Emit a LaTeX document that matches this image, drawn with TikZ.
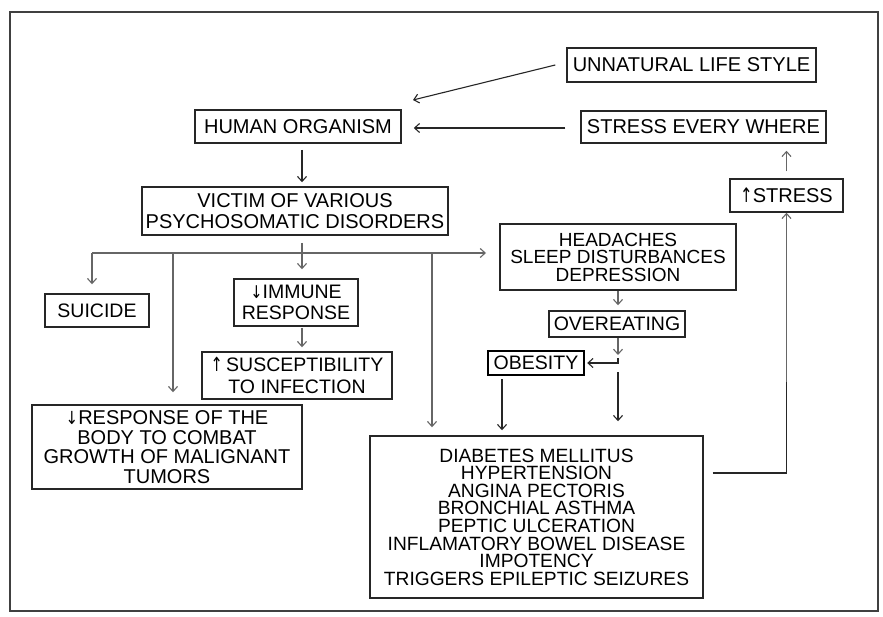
\documentclass[tikz,border=0pt]{standalone}
\usepackage{fontspec}
\setmainfont{Liberation Sans}
\newfontfamily\arrowfont{DejaVu Sans}
\newcommand{\uparr}{\scalebox{0.75}[1]{\arrowfont ↑}}
\newcommand{\dnarr}{\scalebox{0.75}[0.9]{\arrowfont ↓}}
\usetikzlibrary{arrows.meta}
\begin{document}
\begin{tikzpicture}[x=1pt,y=-1pt,
  box/.style={draw=black!85, line width=1.5pt, inner sep=0pt, align=center,
    font=\fontsize{19.5}{18}\selectfont, text=black},
  arr/.style={draw=black!85, line width=1.1pt, -{Straight Barb[length=5pt,width=9pt]}},
  arrg/.style={arr, draw=black!60},
  ln/.style={draw=black!85, line width=1.3pt}]
\useasboundingbox (0,0) rectangle (883,616);
\fill[white] (0,0) rectangle (883,616);
\draw[black!75, line width=1.8pt] (10,12) rectangle (878,611);

% nodes
\node[box, font=\fontsize{20}{20}\selectfont, minimum width=249pt, minimum height=34pt] (UNL) at (691.5,65) {UNNATURAL LIFE STYLE};
\node[box, font=\fontsize{20}{20}\selectfont, minimum width=206pt, minimum height=33pt] (HUM) at (298,126.5) {HUMAN ORGANISM};
\node[box, font=\fontsize{20}{20}\selectfont, minimum width=245pt, minimum height=32pt] (SEW) at (703.5,127) {STRESS EVERY WHERE};
\node[box, font=\fontsize{20}{21}\selectfont, minimum width=306pt, minimum height=48pt] (VIC) at (295,211) {VICTIM OF VARIOUS\\PSYCHOSOMATIC DISORDERS};
\node[box, font=\fontsize{20}{20}\selectfont, minimum width=113pt, minimum height=33pt] (UST) at (786.5,195.5) {\uparr STRESS};
\node[box, font=\fontsize{19}{17.5}\selectfont, minimum width=236pt, minimum height=66pt] (HDA) at (618,257) {HEADACHES\\SLEEP DISTURBANCES\\DEPRESSION};
\node[box, minimum width=136pt, minimum height=26pt] (OVE) at (617,324) {OVEREATING};
\node[box, line width=2.4pt, draw=black, minimum width=96pt, minimum height=24pt] (OBE) at (536,363) {OBESITY};
\node[box, minimum width=104pt, minimum height=33pt] (SUI) at (97,310.5) {SUICIDE};
\node[box, font=\fontsize{19.5}{21.7}\selectfont, minimum width=124pt, minimum height=47pt] (IMM) at (296,302.5) {\dnarr IMMUNE\\RESPONSE};
\node[box, font=\fontsize{19.5}{22}\selectfont, minimum width=190pt, minimum height=47pt] (SUS) at (297,375.5) {\uparr\,SUSCEPTIBILITY\\TO INFECTION};
\node[box, font=\fontsize{20}{19.5}\selectfont, minimum width=270pt, minimum height=84pt] (RES) at (167,447) {\dnarr RESPONSE OF THE\\BODY TO COMBAT\\GROWTH OF MALIGNANT\\TUMORS};
\node[box, font=\fontsize{19.2}{17.6}\selectfont, minimum width=333pt, minimum height=162pt] (DIA) at (536.5,517) {DIABETES MELLITUS\\HYPERTENSION\\ANGINA PECTORIS\\BRONCHIAL ASTHMA\\PEPTIC ULCERATION\\INFLAMATORY BOWEL DISEASE\\IMPOTENCY\\TRIGGERS EPILEPTIC SEIZURES};

% top connectors
\coordinate (uh) at (413,100);
\draw[arr] ([xshift=-11pt]UNL.west) -- (uh);
\draw[arr] ([xshift=-15pt,yshift=-1pt]SEW.west) -- ([xshift=12pt,yshift=-1.5pt]HUM.east);
\draw[arr] ([xshift=4pt,yshift=-6pt]HUM.south) -- ([xshift=7pt,yshift=4pt]VIC.north);

% branch
\coordinate (jL) at (92,253);
\coordinate (jR) at (486,253);
\coordinate (b1) at (173,253);
\coordinate (b2) at (432,253);
\draw[arrg] (jL) -- (jR);
\draw[arrg, shorten >=9pt] (jL) -- (jL |- SUI.north);
\draw[arrg, shorten >=12pt] (b1) -- (b1 |- RES.north);
\draw[arrg, shorten >=8pt] (b2) -- (b2 |- DIA.north);
\draw[arrg, shorten <=7pt, shorten >=9pt] ([xshift=7pt]VIC.south) -- ([xshift=6pt]IMM.north);
\draw[arrg, shorten <=1pt, shorten >=4pt] ([xshift=6pt]IMM.south) -- ([xshift=5pt]SUS.north);

% right column
\draw[arrg, shorten >=5pt] (HDA.south) -- (HDA.south |- OVE.north);
\coordinate (ob) at (618,355);
\coordinate (oc) at (618,358);
\coordinate (od) at (618,372);
\draw[arrg] (OVE.south -| ob) -- (ob);
\draw[arr] (oc) |- ([xshift=2pt]OBE.east);
\draw[arr, shorten >=14pt] (od) -- (od |- DIA.north);
\draw[arr, shorten <=3pt, shorten >=5pt] ([xshift=-34pt]OBE.south) -- ([xshift=-34pt]OBE.south |- DIA.north);

% feedback loop
\coordinate (fb) at (786.5,382);
\draw[arrg] ([shift={(9pt,44pt)}]DIA.east) -| (UST.south);
\draw[ln] ([shift={(9pt,44pt)}]DIA.east) -| (fb);
\draw[arrg, shorten <=7pt, shorten >=7pt] (UST.north) -- (UST.north |- SEW.south);
\end{tikzpicture}
\end{document}
